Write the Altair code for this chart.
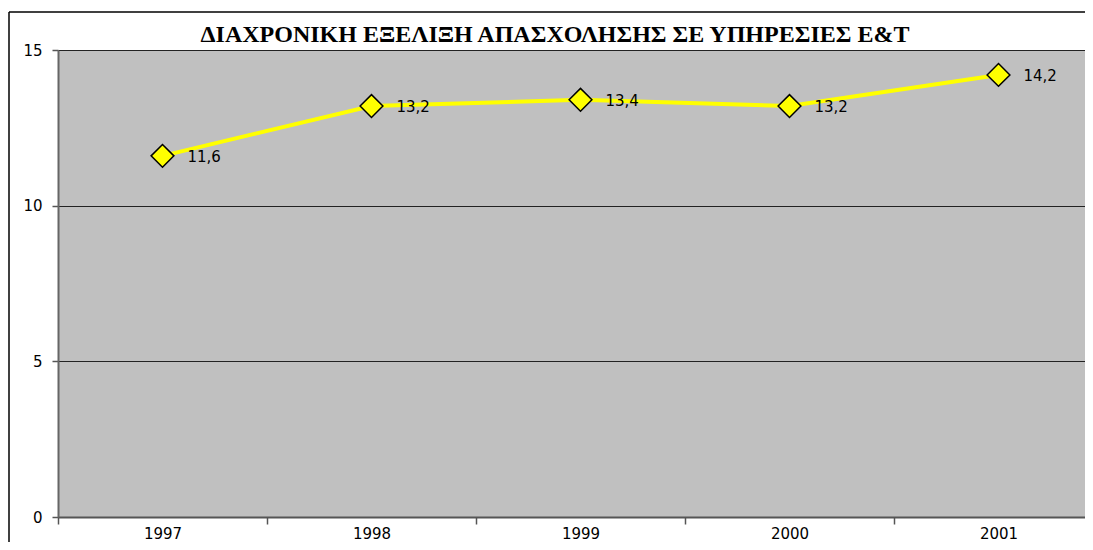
import altair as alt
import pandas as pd

years = [1997, 1998, 1999, 2000, 2001]
values = [11.6, 13.2, 13.4, 13.2, 14.2]
title_text = "ΔΙΑΧΡΟΝΙΚΗ ΕΞΕΛΙΞΗ ΑΠΑΣΧΟΛΗΣΗΣ ΣΕ ΥΠΗΡΕΣΙΕΣ Ε&Τ"
y_ticks = [0, 5, 10, 15]
x_axis_values = [1996.5, 1997, 1997.5, 1998, 1998.5, 1999, 1999.5, 2000, 2000.5, 2001, 2001.5]

df = pd.DataFrame({"year": years, "value": values})

PAD_L, PAD_T = 50, 42
TOTAL_W, TOTAL_H = 1077, 534
W, H = TOTAL_W - PAD_L, 467
PAD_B = TOTAL_H - PAD_T - H
band = 209.0
x_scale = alt.Scale(domain=[1996.5, 1996.5 + W / band], nice=False, zero=False)
y_scale = alt.Scale(domain=[0, 15], nice=False)

x_enc = alt.X(
    "year:Q",
    scale=x_scale,
    axis=alt.Axis(
        values=x_axis_values,
        title=None,
        grid=False,
        labelExpr="datum.value % 1 === 0 ? '' + datum.value : ''",
        labelFont="DejaVu Sans",
        labelFontSize=15,
        labelColor="black",
        labelPadding=2,
        tickSize=7,
        tickColor="#555555",
        tickWidth=1.5,
        tickOpacity={"condition": {"test": "datum.value % 1 === 0", "value": 0}, "value": 1},
        domainColor="#555555",
        domainWidth=2,
        labelFlush=False,
        labelOverlap=False,
    ),
)
y_enc = alt.Y(
    "value:Q",
    scale=y_scale,
    axis=alt.Axis(
        values=y_ticks,
        title=None,
        grid=True,
        gridColor="#222222",
        gridWidth=1,
        labelFont="DejaVu Sans",
        labelFontSize=15,
        labelColor="black",
        labelPadding=10,
        tickSize=6,
        tickColor="#555555",
        tickWidth=1.5,
        domainColor="#666666",
        domainWidth=2,
    ),
)

base = alt.Chart(df)
one = pd.DataFrame({"k": [0]})

frame_top = alt.Chart(one).mark_rule(color="black", strokeWidth=1.5).encode(
    x=alt.value(-49), x2=alt.value(W + 20), y=alt.value(-38)
)
frame_left = alt.Chart(one).mark_rule(color="black", strokeWidth=1.5).encode(
    x=alt.value(-49), y=alt.value(-38), y2=alt.value(H + PAD_B + 20)
)

line = base.mark_line(color="#FFFF00", strokeWidth=4).encode(x=x_enc, y=y_enc)
points = base.mark_point(
    shape="diamond", filled=True, fill="#FFFF00", stroke="black", strokeWidth=1.5, size=520, opacity=1
).encode(x="year:Q", y="value:Q")
labels = base.transform_calculate(
    lbl="replace(format(datum.value, '.1f'), '.', ',')"
).mark_text(
    align="left", baseline="middle", dx=25, dy=1, font="DejaVu Sans", fontSize=15, color="black"
).encode(x="year:Q", y="value:Q", text="lbl:N")

title = alt.Chart(pd.DataFrame({"t": [title_text]})).mark_text(
    align="center", baseline="alphabetic", font="Liberation Serif", fontWeight="bold",
    fontSize=24, color="black"
).encode(x=alt.value(497), y=alt.value(-8), text="t:N")

chart = alt.layer(frame_top, frame_left, line, points, labels, title).properties(
    width=W, height=H,
    autosize=alt.AutoSizeParams(type="none"),
    padding={"left": PAD_L, "top": PAD_T, "right": 0, "bottom": PAD_B},
    background="white",
).configure_view(fill="#C0C0C0", stroke="transparent", strokeWidth=0)

chart.save("out.html", embed_options={"renderer": "svg", "actions": False})
